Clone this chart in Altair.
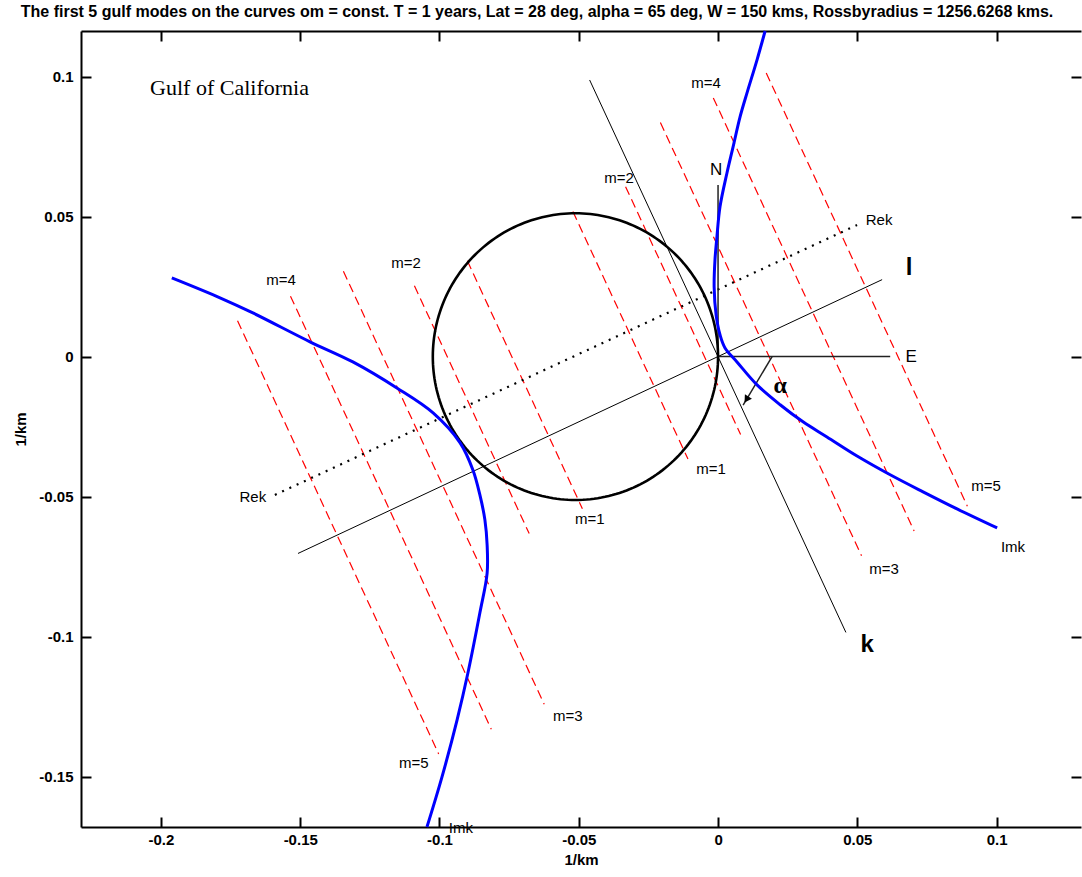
import altair as alt
import numpy as np
import pandas as pd

# ---- axes (1/km) ----
X_DOMAIN = [-0.2287, 0.1303]
Y_DOMAIN = [-0.168, 0.1163]
x_ticks = [-0.2, -0.15, -0.1, -0.05, 0, 0.05, 0.1]
y_ticks = [-0.15, -0.1, -0.05, 0, 0.05, 0.1]

# ---- Im k branches of the dispersion curve (blue) ----
imk_right_x = [0.0169, 0.0140, 0.0104, 0.0079, 0.0054, 0.0032, 0.0007, -0.0004, -0.0011,
               -0.0014, -0.0007, 0.0007, 0.0025, 0.0068, 0.0140, 0.0223, 0.0305, 0.0391,
               0.0499, 0.0618, 0.0736, 0.0858, 0.1002]
imk_right_y = [0.1163, 0.1060, 0.0942, 0.0856, 0.0749, 0.0656, 0.0535, 0.0428, 0.0346,
               0.0249, 0.0149, 0.0078, 0.0031, -0.0019, -0.0101, -0.0172, -0.0233, -0.0287,
               -0.0355, -0.0422, -0.0483, -0.0544, -0.0612]
imk_left_x = [-0.1961, -0.1788, -0.1670, -0.1465, -0.1311, -0.1153, -0.1023, -0.0926, -0.0880,
              -0.0855, -0.0837, -0.0829, -0.0829, -0.0855, -0.0898, -0.0937, -0.0991, -0.1045]
imk_left_y = [0.0281, 0.0210, 0.0156, 0.0053, -0.0019, -0.0112, -0.0201, -0.0308, -0.0405,
              -0.0494, -0.0583, -0.0673, -0.0773, -0.0915, -0.1130, -0.1298, -0.1501, -0.1680]

# ---- circle of real wavenumbers ----
circle_center_x = -0.0512
circle_center_y = 0.0
circle_radius = 0.0512

# ---- gulf mode lines (m = 1..5 on each side) ----
mode_x1 = [-0.0521, -0.0332, -0.0207, -0.0017, 0.0173, -0.0900, -0.1090, -0.1345, -0.1535, -0.1725]
mode_y1 = [0.0518, 0.0607, 0.0836, 0.0924, 0.1013, 0.0342, 0.0253, 0.0305, 0.0216, 0.0128]
mode_x2 = [-0.0108, 0.0081, 0.0515, 0.0704, 0.0895, -0.0487, -0.0678, -0.0624, -0.0814, -0.1003]
mode_y2 = [-0.0366, -0.0278, -0.0711, -0.0623, -0.0534, -0.0543, -0.0632, -0.1242, -0.1331, -0.1419]

mode_label = ["m=1", "m=2", "m=3", "m=4", "m=5", "m=1", "m=2", "m=3", "m=4", "m=5"]
mode_label_x = [-0.0025, -0.0355, 0.0596, -0.0043, 0.0962, -0.0460, -0.1120, -0.0539, -0.1569, -0.1092]
mode_label_y = [-0.0401, 0.0638, -0.0758, 0.0977, -0.0462, -0.0580, 0.0335, -0.1283, 0.0274, -0.1451]

# ---- reference axes: k (alongshore), l (cross-shore), Re k, N, E ----
thin_names = ["k axis", "l axis"]
thin_x1 = [-0.0461, -0.1508]
thin_y1 = [0.0988, -0.0703]
thin_x2 = [0.0459, 0.0589]
thin_y2 = [-0.0985, 0.0275]

rek_x1, rek_y1, rek_x2, rek_y2 = [-0.1591], [-0.0494], [0.0499], [0.0470]

compass_names = ["N", "E", "alpha"]
compass_x1 = [0.0, 0.0, 0.0194]
compass_y1 = [0.0, 0.0, 0.0]
compass_x2 = [0.0, 0.0618, 0.0090]
compass_y2 = [0.0613, 0.0, -0.0173]

arrow_x, arrow_y = [0.0102], [-0.0153]

# ---- annotations ----
small_text = ["N", "E", "Rek", "Rek", "Imk", "Imk"]
small_x = [-0.0007, 0.0693, 0.0578, -0.1670, 0.1059, -0.0923]
small_y = [0.0667, -0.0001, 0.0488, -0.0501, -0.0680, -0.1683]
small_size = [17, 17, 15, 15, 15, 15]

big_text = ["l", "k"]
big_x = [0.0686, 0.0535]
big_y = [0.0317, -0.1030]

TITLE = ("The first 5 gulf modes on the curves om = const. T = 1 years, Lat = 28 deg, "
         "alpha = 65 deg, W = 150 kms, Rossbyradius = 1256.6268 kms.")

# ---- tables ----
imk = pd.concat([
    pd.DataFrame({"x": imk_right_x, "y": imk_right_y, "branch": "right",
                  "i": range(len(imk_right_x))}),
    pd.DataFrame({"x": imk_left_x, "y": imk_left_y, "branch": "left",
                  "i": range(len(imk_left_x))}),
])
t = np.linspace(0, 2 * np.pi, 241)
circle = pd.DataFrame({"x": circle_center_x + circle_radius * np.cos(t),
                       "y": circle_center_y + circle_radius * np.sin(t),
                       "i": range(len(t))})
modes = pd.DataFrame({"x1": mode_x1, "y1": mode_y1, "x2": mode_x2, "y2": mode_y2})
mode_labels = pd.DataFrame({"x": mode_label_x, "y": mode_label_y, "t": mode_label})
thin = pd.DataFrame({"name": thin_names, "x1": thin_x1, "y1": thin_y1, "x2": thin_x2, "y2": thin_y2})
rek = pd.DataFrame({"x1": rek_x1, "y1": rek_y1, "x2": rek_x2, "y2": rek_y2})
compass = pd.DataFrame({"name": compass_names, "x1": compass_x1, "y1": compass_y1,
                        "x2": compass_x2, "y2": compass_y2})
arrow = pd.DataFrame({"x": arrow_x, "y": arrow_y})
small = pd.DataFrame({"x": small_x, "y": small_y, "t": small_text, "s": small_size})
big = pd.DataFrame({"x": big_x, "y": big_y, "t": big_text})
alpha_df = pd.DataFrame({"x": [0.0223], "y": [-0.0105], "t": ["α"]})
gulf_df = pd.DataFrame({"x": [-0.2039], "y": [0.0960], "t": ["Gulf of California"]})

xs = alt.Scale(domain=X_DOMAIN, nice=False, zero=False)
ys = alt.Scale(domain=Y_DOMAIN, nice=False, zero=False)
LABEL_EXPR = "'' + datum.value"
SANS = "Liberation Sans"

# axis pieces: the box lines and labels, plus inward-pointing ticks on all four sides
ax_bottom = alt.Axis(orient="bottom", values=x_ticks, labelExpr=LABEL_EXPR, ticks=False, tickSize=0,
                     domain=True, domainColor="black", domainWidth=2, grid=False,
                     labelFont=SANS, labelFontSize=15, labelFontWeight="bold", labelColor="black",
                     labelPadding=5, title="1/km", titleFont=SANS, titleFontSize=15,
                     titleFontWeight="bold", titleColor="black", titlePadding=5)
ax_left = alt.Axis(orient="left", values=y_ticks, labelExpr=LABEL_EXPR, ticks=False, tickSize=0,
                   domain=True, domainColor="black", domainWidth=2, grid=False,
                   labelFont=SANS, labelFontSize=15, labelFontWeight="bold", labelColor="black",
                   labelPadding=8, title="1/km", titleFont=SANS, titleFontSize=15,
                   titleFontWeight="bold", titleColor="black", titlePadding=10)


def tick_axis(orient, values):
    return alt.Axis(orient=orient, values=values, offset=-10, domain=False, labels=False,
                    ticks=True, tickSize=10, tickWidth=2, tickColor="black", grid=False, title=None)


ax_top_line = alt.Axis(orient="top", values=x_ticks, domain=True, domainColor="black", domainWidth=2,
                       labels=False, ticks=False, tickSize=0, grid=False, title=None)


def X(field, axis=None):
    return alt.X(field, type="quantitative", scale=xs, axis=axis)


def Y(field, axis=None):
    return alt.Y(field, type="quantitative", scale=ys, axis=axis)


red_lines = alt.Chart(modes).mark_rule(color="#ff0000", strokeWidth=1.2, strokeDash=[9, 5]).encode(
    x=X("x1", tick_axis("top", x_ticks)), y=Y("y1"), x2="x2", y2="y2")

thin_lines = alt.Chart(thin).mark_rule(color="black", strokeWidth=1).encode(
    x=X("x1"), y=Y("y1"), x2="x2", y2="y2")

rek_line = alt.Chart(rek).mark_rule(color="black", strokeWidth=2.2, strokeDash=[2, 6]).encode(
    x=X("x1"), y=Y("y1"), x2="x2", y2="y2")

compass_lines = alt.Chart(compass).mark_rule(color="#222222", strokeWidth=1.5).encode(
    x=X("x1"), y=Y("y1"), x2="x2", y2="y2")

arrow_head = alt.Chart(arrow).mark_point(shape="triangle-up", filled=True, color="black",
                                         size=70, angle=213, opacity=1).encode(
    x=X("x"), y=Y("y"))

circle_line = alt.Chart(circle).mark_line(color="black", strokeWidth=2.6).encode(
    x=X("x", ax_top_line), y=Y("y", tick_axis("right", y_ticks)), order="i:Q")

imk_left = alt.Chart(imk[imk.branch == "left"]).mark_line(
    color="#0000ff", strokeWidth=3, interpolate="catmull-rom").encode(
    x=X("x", ax_bottom), y=Y("y", ax_left), order="i:Q")

imk_right = alt.Chart(imk[imk.branch == "right"]).mark_line(
    color="#0000ff", strokeWidth=3, interpolate="catmull-rom").encode(
    x=X("x", tick_axis("bottom", x_ticks)), y=Y("y", tick_axis("left", y_ticks)), order="i:Q")

mode_text = alt.Chart(mode_labels).mark_text(font=SANS, fontSize=15, color="black",
                                             align="center", baseline="middle").encode(
    x=X("x"), y=Y("y"), text="t:N")

small_labels = alt.Chart(small).mark_text(font=SANS, color="black", align="center",
                                          baseline="middle").encode(
    x=X("x"), y=Y("y"), text="t:N", size=alt.Size("s:Q", scale=None, legend=None))

big_labels = alt.Chart(big).mark_text(font=SANS, fontSize=24, fontWeight="bold", color="black",
                                      align="center", baseline="middle").encode(
    x=X("x"), y=Y("y"), text="t:N")

alpha_label = alt.Chart(alpha_df).mark_text(font="Liberation Serif", fontSize=24, fontWeight="bold",
                                            color="black", align="center", baseline="middle").encode(
    x=X("x"), y=Y("y"), text="t:N")

gulf_label = alt.Chart(gulf_df).mark_text(font="Liberation Serif", fontSize=22, color="black",
                                          align="left", baseline="middle").encode(
    x=X("x"), y=Y("y"), text="t:N")

chart = alt.layer(
    red_lines, thin_lines, rek_line, compass_lines, arrow_head, circle_line,
    imk_left, imk_right, mode_text, small_labels, big_labels, alpha_label, gulf_label,
).resolve_axis(
    x="independent", y="independent"
).properties(
    width=1000, height=796,
    title=alt.TitleParams(TITLE, font="Liberation Sans", fontSize=16, fontWeight="bold",
                          color="black", anchor="middle", dx=-44, offset=5),
    autosize=alt.AutoSizeParams(type="none"),
    padding={"left": 81, "top": 31, "right": 1, "bottom": 50},
    background="white",
).configure_view(stroke=None)

chart.save("out.html", embed_options={"renderer": "svg", "actions": False})
